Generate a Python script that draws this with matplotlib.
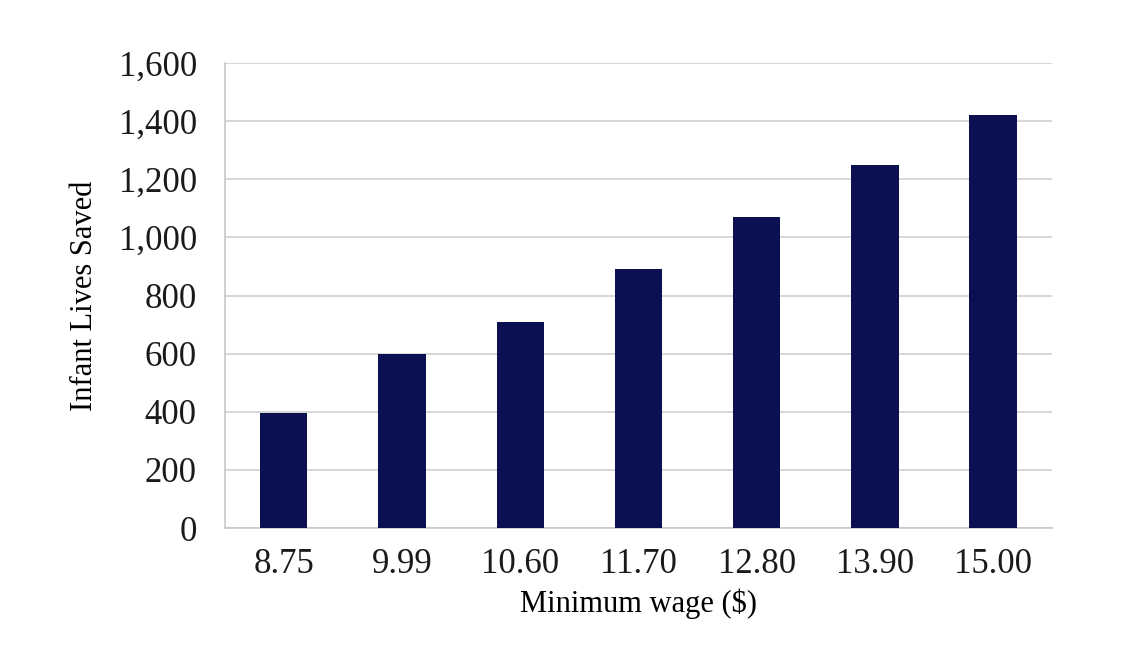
import matplotlib
matplotlib.use('Agg')
import matplotlib.pyplot as plt
from matplotlib.ticker import FuncFormatter

plt.rcParams['font.family'] = ['Liberation Serif', 'DejaVu Serif']

# Data
wages = ['8.75', '9.99', '10.60', '11.70', '12.80', '13.90', '15.00']
lives = [395, 600, 710, 890, 1070, 1250, 1420]

fig = plt.figure(figsize=(11.4, 6.71), dpi=100)
ax = fig.add_axes([0.197, 0.213, 0.726, 0.693])

ax.bar(range(len(wages)), lives, width=0.4, color='#0b1150', zorder=3)

ax.set_ylim(0, 1600)
ax.set_xlim(-0.5, len(wages) - 0.5)
ax.set_yticks(range(0, 1601, 200))
ax.yaxis.set_major_formatter(FuncFormatter(lambda v, p: f'{int(v):,}'))
ax.set_xticks(range(len(wages)))
ax.set_xticklabels(wages)
ax.grid(axis='y', color='#d0d0d0', linewidth=1.2, zorder=0)

for s in ['top', 'right']:
    ax.spines[s].set_visible(False)
for s in ['left', 'bottom']:
    ax.spines[s].set_color('#c8c8c8')
    ax.spines[s].set_linewidth(1.2)

ax.tick_params(axis='both', length=0, labelsize=25, colors='#1a1a1a')
ax.tick_params(axis='x', pad=14)
ax.tick_params(axis='y', pad=20)
ax.set_xlabel('Minimum wage ($)', fontsize=22, labelpad=6)
ax.set_ylabel('Infant Lives Saved', fontsize=22, labelpad=14)

plt.savefig('out.png', dpi=100)
